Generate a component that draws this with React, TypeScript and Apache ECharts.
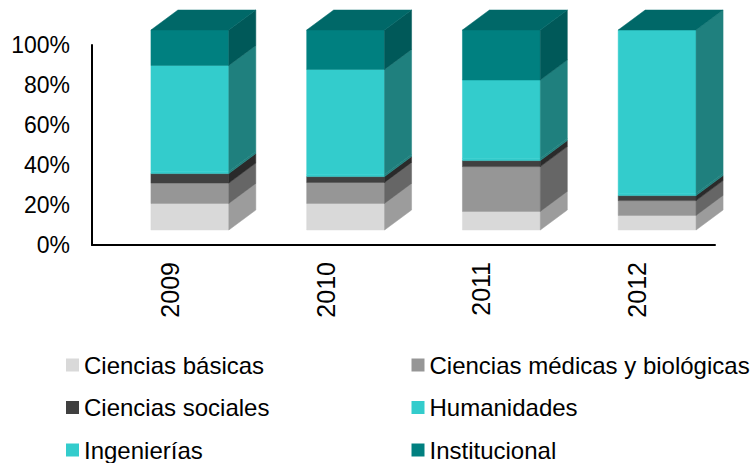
import React, { useEffect, useRef } from "react";
import * as echarts from "echarts";

const years = ["2009", "2010", "2011", "2012"];
const yTicks = [0, 20, 40, 60, 80, 100];
const cienciasBasicas = [13.3, 13.3, 9.3, 7.3];
const cienciasMedicas = [10.2, 10.5, 22.4, 7.4];
const cienciasSociales = [4.7, 2.9, 3.0, 2.5];
const humanidades = [1.0, 1.0, 1.0, 1.0];
const ingenierias = [53.1, 52.6, 39.3, 81.8];
const institucional = [17.7, 19.7, 25.0, 0];

const seriesDefs = [
  { name: "Ciencias básicas", values: cienciasBasicas, front: "#D9D9D9", side: "#9C9C9C" },
  { name: "Ciencias médicas y biológicas", values: cienciasMedicas, front: "#969696", side: "#666666" },
  { name: "Ciencias sociales", values: cienciasSociales, front: "#404040", side: "#2A2A2A" },
  { name: "Humanidades", values: humanidades, front: "#33CCCC", side: "#1F807E" },
  { name: "Ingenierías", values: ingenierias, front: "#33CCCC", side: "#1F807E" },
  { name: "Institucional", values: institucional, front: "#008080", side: "#005959" },
];
const topColor = "#006868";

const OX = 20;
const OY = -15;
const DX = 27;
const DY = 20;
const FONT = "'Liberation Sans', Arial, sans-serif";

export default function App() {
  const ref = useRef<HTMLDivElement>(null);
  useEffect(() => {
    document.body.style.margin = "0";
    if (!ref.current) return;
    const chart = echarts.init(ref.current, null, { renderer: "svg" });

    const cum = years.map(() => 0);
    const series: any[] = seriesDefs.map((d) => {
      const data = years.map((_, i) => {
        const s = cum[i];
        const e = s + d.values[i];
        cum[i] = e;
        return [i, s, e];
      });
      return {
        type: "custom",
        name: d.name,
        itemStyle: { color: d.front },
        encode: { x: 0, y: [1, 2] },
        data,
        renderItem: (params: any, api: any) => {
          const i = api.value(0);
          const s = api.value(1);
          const e = api.value(2);
          if (e - s <= 0) return null;
          const p0 = api.coord([i, s]);
          const p1 = api.coord([i, e]);
          const w = api.size([1, 0])[0] * 0.5;
          const x0 = p0[0] - w / 2 + OX;
          const x1 = x0 + w;
          const yb = p0[1] + OY;
          const yt = p1[1] + OY;
          return {
            type: "group",
            children: [
              {
                type: "rect",
                shape: { x: x0, y: yt, width: w, height: yb - yt },
                style: { fill: d.front, stroke: d.front, lineWidth: 0.5 },
              },
              {
                type: "polygon",
                shape: { points: [[x1, yb], [x1, yt], [x1 + DX, yt - DY], [x1 + DX, yb - DY]] },
                style: { fill: d.side, stroke: d.side, lineWidth: 0.5 },
              },
            ],
          };
        },
      };
    });

    const totals = cum.map((t, i) => [i, t]);
    series.push({
      type: "custom",
      name: "top",
      encode: { x: 0, y: 1 },
      data: totals,
      renderItem: (params: any, api: any) => {
        const i = api.value(0);
        const t = api.value(1);
        const p = api.coord([i, t]);
        const w = api.size([1, 0])[0] * 0.5;
        const x0 = p[0] - w / 2 + OX;
        const x1 = x0 + w;
        const yt = p[1] + OY;
        return {
          type: "polygon",
          shape: { points: [[x0, yt], [x1, yt], [x1 + DX, yt - DY], [x0 + DX, yt - DY]] },
          style: { fill: topColor, stroke: topColor, lineWidth: 0.5 },
        };
      },
    });

    chart.setOption({
      animation: false,
      textStyle: { fontFamily: FONT },
      grid: { left: 92, right: 36, top: 45, bottom: 218 },
      legend: {
        orient: "horizontal",
        left: 66,
        top: 353,
        width: 690,
        padding: 0,
        itemWidth: 13,
        itemHeight: 13,
        itemGap: 18.5,
        itemTextGap: 5,
        icon: "rect",
        selectedMode: false,
        data: seriesDefs.map((d) => d.name),
        textStyle: { fontSize: 24, lineHeight: 24, fontFamily: FONT, color: "#000", width: 309, overflow: "none" },
      },
      xAxis: {
        type: "category",
        data: years,
        axisLine: { lineStyle: { color: "#000", width: 2 } },
        axisTick: { show: false },
        axisLabel: { rotate: 90, fontSize: 25, color: "#000", margin: 17, fontFamily: FONT },
      },
      yAxis: {
        type: "value",
        min: yTicks[0],
        max: yTicks[yTicks.length - 1],
        interval: 20,
        axisLine: { show: true, lineStyle: { color: "#000", width: 2 } },
        axisTick: { show: false },
        splitLine: { show: false },
        axisLabel: { formatter: "{value}%", fontSize: 23, color: "#000", margin: 22, fontFamily: FONT },
      },
      series,
    });
    return () => chart.dispose();
  }, []);
  return <div ref={ref} style={{ width: 751, height: 463 }} />;
}
